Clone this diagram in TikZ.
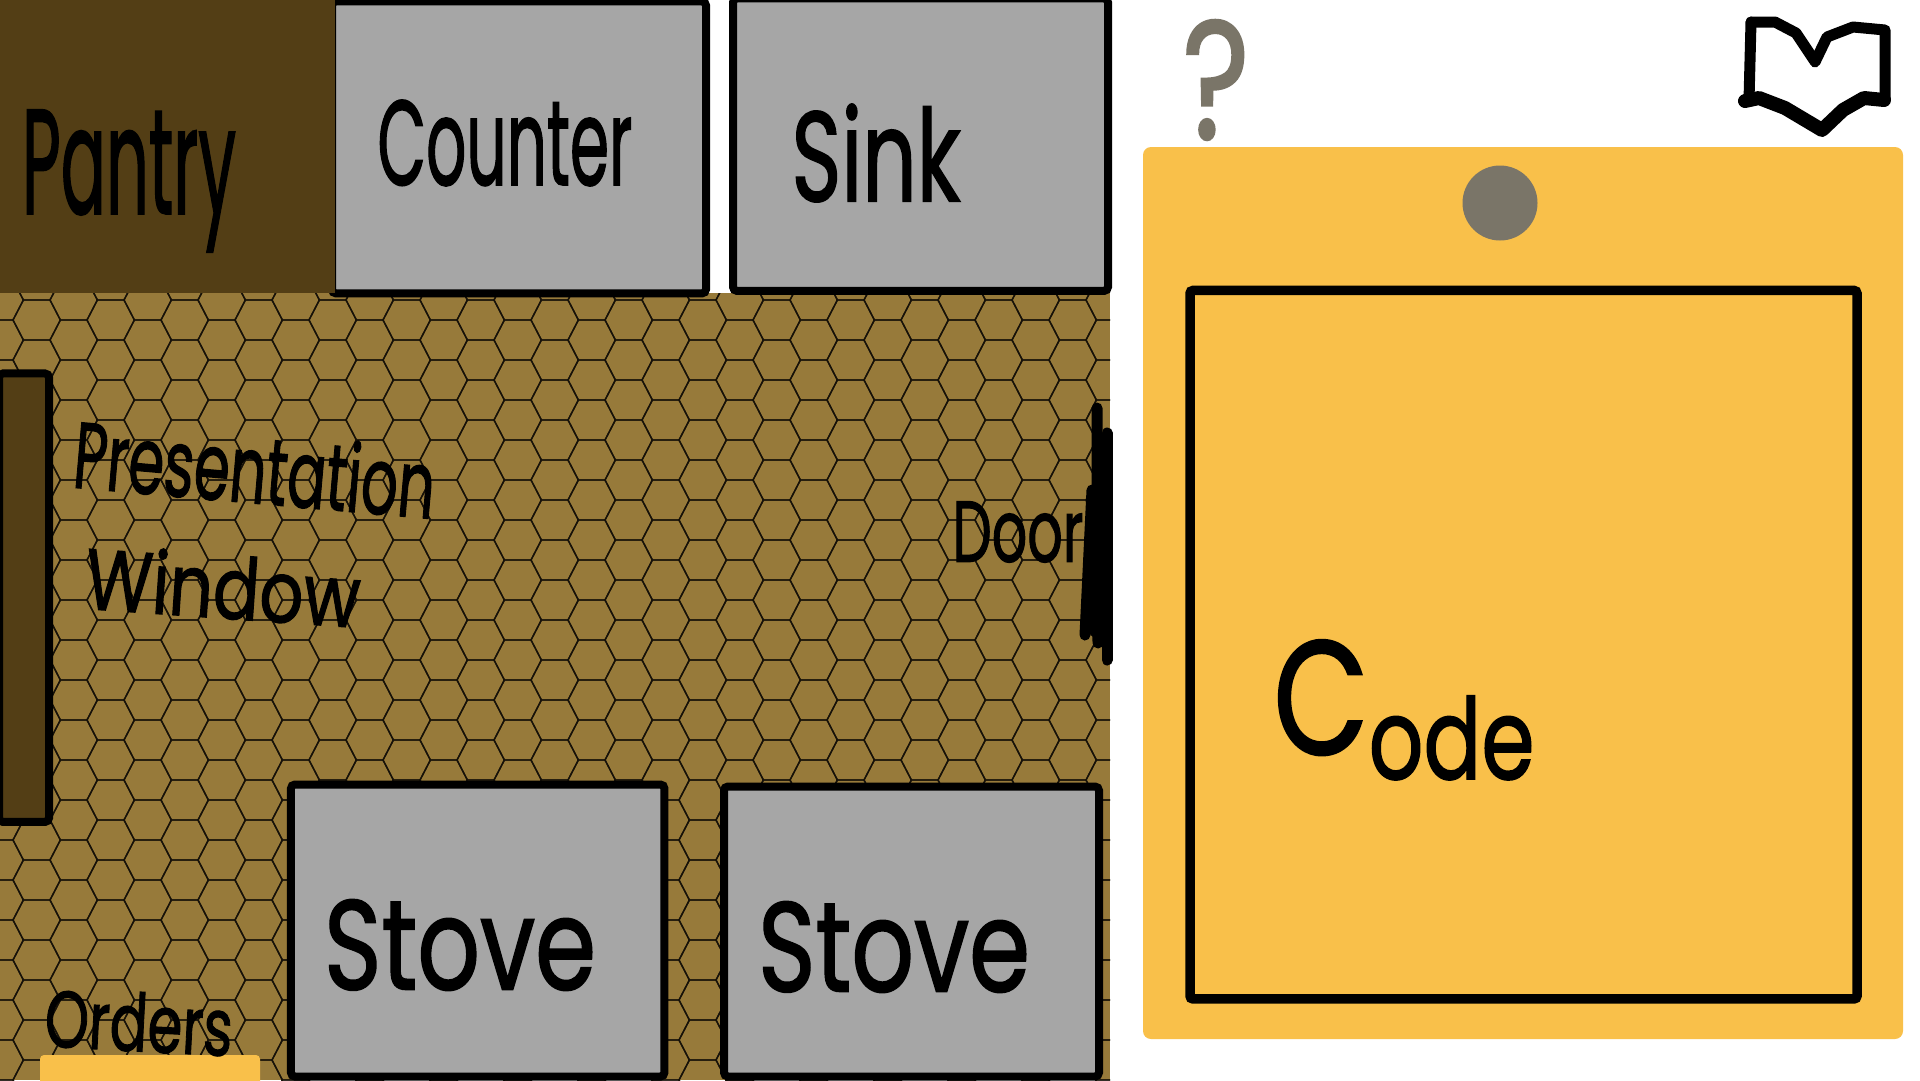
\documentclass[tikz,border=0pt]{standalone}
\usepackage{graphicx}
\usepackage{fontspec}
\setmainfont{Poppins}
\newfontface\penfont[FakeBold=1.5]{Poppins}
\usepackage{tikz}
\usetikzlibrary{positioning}

\definecolor{floorbrown}{HTML}{977A3A}
\definecolor{pantrybrown}{HTML}{533E15}
\definecolor{stationgray}{HTML}{A6A6A6}
\definecolor{panelyellow}{HTML}{F9C04A}
\definecolor{pingray}{HTML}{7A7568}

\tikzset{
	plain/.style={inner sep=0pt,outer sep=0pt},
	station/.style={plain,draw=black,fill=stationgray,line width=8pt,rounded corners=4pt},
	scribble/.style={plain,text=black,font=\penfont},
	pen/.style={line width=11pt,line cap=round,line join=round}
}
% fits a handwritten word into the box it fills in the picture
\newcommand{\scrib}[3]{\resizebox*{#1pt}{#2pt}{#3}}
% one cell of the floor
\newcommand{\hexcell}[2]{\draw[line width=1.4pt,draw=black!85!floorbrown] (#1-23.7,#2) -- (#1-13.3,#2-20) -- (#1+13.3,#2-20) -- (#1+23.7,#2) -- (#1+13.3,#2+20) -- (#1-13.3,#2+20) -- cycle;}

\begin{document}
\begin{tikzpicture}[x=1pt,y=-1pt]
	\useasboundingbox (0,0) rectangle (1920,1080);
	\fill[white] (0,0) rectangle (1920,1080);

	%Floor
	\begin{scope}
		\clip (0,293) rectangle (1110,1080);
		\fill[floorbrown] (0,293) rectangle (1110,1080);
		\foreach \col in {-1,...,15} {
			\foreach \row in {7,...,27} {
				\pgfmathsetmacro{\cx}{36.7+74*\col}
				\pgfmathsetmacro{\cy}{40*\row}
				\pgfmathsetmacro{\dx}{73.7+74*\col}
				\pgfmathsetmacro{\dy}{40*\row+20}
				\hexcell{\cx}{\cy}
				\hexcell{\dx}{\dy}
			}
		}
	\end{scope}

	%Nodes
	\node [station,minimum width=374pt,minimum height=292pt] (counter) at (519,147.4) {};
	\node [plain,fill=pantrybrown,minimum width=335pt,minimum height=293pt] (pantry) at (167.5,146.5) {};
	\node [station,minimum width=375pt,minimum height=292.5pt] (sink) at (920.5,144.7) {};
	\node [station,fill=pantrybrown,minimum width=50pt,minimum height=448.5pt] (window) at (24,597.7) {};
	\node [station,minimum width=373.5pt,minimum height=292pt] (stoveOne) at (477.7,930.5) {};
	\node [station,minimum width=375pt,minimum height=290pt] (stoveTwo) at (911.5,931.5) {};
	\node [plain,fill=panelyellow,rounded corners=4pt,minimum width=220pt,minimum height=40pt] (orders) at (150,1075) {};

	\node [plain,fill=panelyellow,rounded corners=8pt,minimum width=760pt,minimum height=892pt] (panel) at (1523,593) {};
	\node [plain,fill=pingray,circle,minimum size=75pt] (pin) at (1500,203) {};
	\node [plain,draw=black,line width=9.5pt,rounded corners=3pt,minimum width=667pt,minimum height=708.5pt] (codebox) at (1523.5,644.7) {};

	%Labels
	\node [scribble] (pantryText) at (129,181) {\scrib{214}{142}{Pantry}};
	\node [scribble] (counterText) at (505,143) {\scrib{255}{86}{Counter}};
	\node [scribble] (sinkText) at (876,153) {\scrib{169}{98}{Sink}};
	\node [scribble,rotate=-5] (presentText) at (255,468) {\scrib{362}{72}{Presentation}};
	\node [scribble,rotate=-4] (windowText) at (223,586) {\scrib{275}{66}{Window}};
	\node [scribble] (doorText) at (1018,532) {\scrib{131}{61}{Door}};
	\node [scribble,rotate=-3] (ordersText) at (139,1022) {\scrib{188}{60}{Orders}};
	\node [scribble] (stoveOneText) at (460,945) {\scrib{272}{91}{Stove}};
	\node [scribble] (stoveTwoText) at (894,947) {\scrib{272}{91}{Stove}};
	\node [scribble] (codeText) at (1404,710) {\scrib{261}{140}{\raisebox{0.22em}{\Large C}ode}};
	\node [scribble,text=pingray] (helpText) at (1216,80) {\scrib{67}{120}{?}};

	%Door
	\draw[pen] (1097,408) -- (1097,500) -- (1098,643);
	\draw[pen] (1107,433) -- (1107,660);
	\draw[pen] (1092,490) -- (1085,635);
	\draw[pen,line width=16pt] (1101,450) -- (1097,630);

	%Book
	\draw[pen] (1751,22) -- (1775,22) -- (1796,33) -- (1814,60);
	\draw[pen] (1815,62) -- (1827,37) -- (1853,27) -- (1885,30) -- (1885,100);
	\draw[pen] (1751,22) -- (1749,100);
	\draw[pen,line width=14pt] (1745,101) -- (1759,98) -- (1785,108) -- (1822,130) -- (1843,110) -- (1864,98) -- (1884,100);
\end{tikzpicture}
\end{document}
